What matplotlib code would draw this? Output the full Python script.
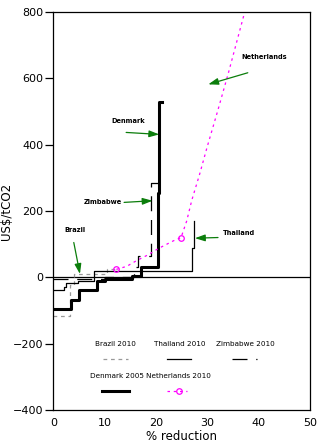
import matplotlib
matplotlib.use("Agg")
import matplotlib.pyplot as plt
from matplotlib.lines import Line2D

# Marginal abatement cost steps (x = % reduction, y = US$/tCO2)
brazil_x = [0, 3.2, 4.0, 10.4, 12.0]
brazil_y = [-116, -23, 9, 25, 25]

thailand_x = [0, 2.0, 2.4, 4.9, 8.0, 27.1, 27.5]
thailand_y = [-38, -28, -18, -11, 19, 89, 170]

zimbabwe_x = [0, 10.1, 15.7, 16.6, 19.0, 20.45]
zimbabwe_y = [-5, 2, 32, 64, 285, 285]

denmark_x = [0, 3.4, 5.0, 8.6, 10.1, 15.3, 17.0, 20.45, 20.65, 21.2]
denmark_y = [-96, -68, -38, -11, -6, 5, 30, 255, 530, 530]

netherlands_x = [12.3, 14.3, 16.2, 18.5, 20.5, 23.4, 24.9, 26.0, 27.0, 28.5, 30.0, 32.0, 34.1, 37.3]
netherlands_y = [24, 33, 50, 68, 87, 110, 120, 170, 233, 310, 394, 500, 615, 800]
netherlands_marks = [0, 6]

# country callouts: label, text position, arrow tail, arrow head
callouts = [
    ("Netherlands", (36.7, 665), (37.9, 617), (30.2, 582)),
    ("Denmark", (11.4, 472), (14.2, 437), (20.65, 431)),
    ("Zimbabwe", (5.9, 228), (13.8, 226), (19.35, 231)),
    ("Brazil", (2.2, 143), (4.0, 105), (5.2, 10)),
    ("Thailand", (33.0, 135), (32.1, 120), (27.6, 118)),
]

GREEN = "#0b7d0b"
MAGENTA = "#ff00ff"
GREY = "#999999"

fig = plt.figure(figsize=(3.35, 4.48), dpi=100)
ax = fig.add_axes([0.159, 0.085, 0.766, 0.888])

ax.axhline(0, color="black", lw=0.9, zorder=1)

ax.plot(brazil_x, brazil_y, drawstyle="steps-post", color=GREY, lw=0.9,
        dashes=(3, 3))
ax.plot(thailand_x, thailand_y, drawstyle="steps-post", color="black", lw=0.9)
ax.plot(zimbabwe_x, zimbabwe_y, drawstyle="steps-post", color="black", lw=0.9,
        dashes=(12, 7))
ax.plot(denmark_x, denmark_y, drawstyle="steps-post", color="black", lw=2.2)
ax.plot(netherlands_x, netherlands_y, color=MAGENTA, lw=0.9, dashes=(2, 3),
        marker="o", markevery=netherlands_marks, ms=4, mfc="none", mec=MAGENTA,
        mew=0.9)

for label, tpos, tail, head in callouts:
    ax.text(tpos[0], tpos[1], label, fontsize=4.8, fontweight="bold",
            ha="left", va="center")
    ax.annotate("", xy=head, xytext=tail,
                arrowprops=dict(arrowstyle="-|>,head_length=0.6,head_width=0.2",
                                color=GREEN, lw=0.9, shrinkA=0, shrinkB=0))

# legend: label above each line sample
def ax_pos(px, py):
    return (px - 53.3) / 256.7, (410 - py) / 398

legend_items = [
    ("Brazil 2010", 115, 344, (102.7, 128.3), 359.3,
     dict(color=GREY, lw=0.9, dashes=(3, 3))),
    ("Thailand 2010", 180, 344, (166.7, 190.7), 359.3,
     dict(color="black", lw=0.9)),
    ("Zimbabwe 2010", 245, 344, (232, 257), 359.3,
     dict(color="black", lw=0.9, dashes=(12, 7))),
    ("Denmark 2005", 117, 376, (102, 128.7), 390.7,
     dict(color="black", lw=2.2)),
    ("Netherlands 2010", 179, 376, (166.7, 186.7), 390.7,
     dict(color=MAGENTA, lw=0.9, dashes=(2, 3))),
]
for label, lx, ly, (sx0, sx1), sy, style in legend_items:
    tx, ty = ax_pos(lx, ly)
    ax.text(tx, ty, label, transform=ax.transAxes, fontsize=5.2,
            ha="center", va="center")
    x0, y0 = ax_pos(sx0, sy)
    x1, _ = ax_pos(sx1, sy)
    ax.add_line(Line2D([x0, x1], [y0, y0], transform=ax.transAxes, **style))
mx, my = ax_pos(179, 390.7)
ax.add_line(Line2D([mx], [my], transform=ax.transAxes, marker="o", ms=4,
                   mfc="none", mec=MAGENTA, mew=0.9, lw=0))

ax.set_xlim(0, 50)
ax.set_ylim(-400, 800)
ax.set_xticks(range(0, 51, 10))
ax.set_yticks(range(-400, 801, 200))
ax.tick_params(axis="y", direction="out", length=6, width=0.9, pad=1,
               labelsize=8)
ax.tick_params(axis="x", length=0, pad=6, labelsize=8)
ax.set_xlabel("% reduction", fontsize=8.5, labelpad=1)
ax.set_ylabel("US$/tCO2", fontsize=8.5)
ax.yaxis.set_label_coords(-0.155, 0.5)
for s in ax.spines.values():
    s.set_linewidth(0.9)

fig.savefig("out.png", dpi=100)
